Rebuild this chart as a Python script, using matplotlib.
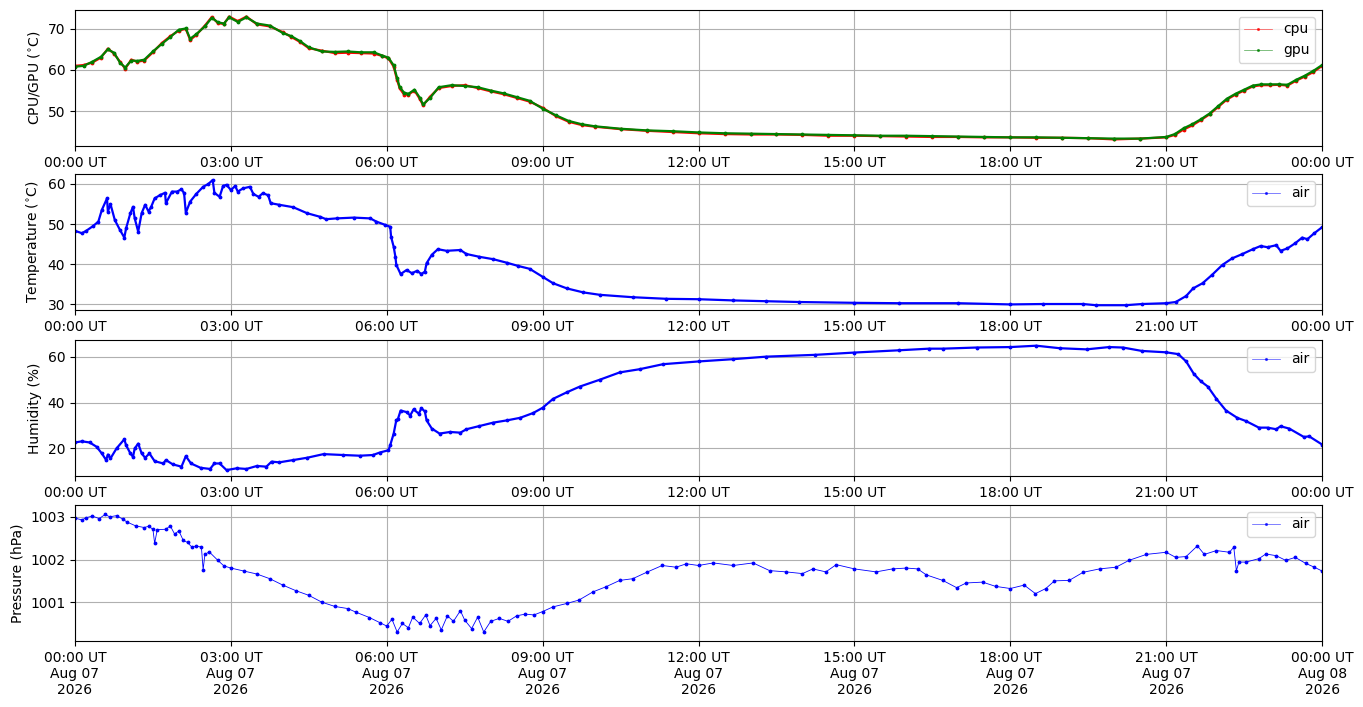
import matplotlib
matplotlib.use('Agg')
import matplotlib.pyplot as plt
import matplotlib.dates as mdates
import pandas as pd

# Dados - CPU / GPU
t_chip = ['00:00', '00:10', '00:20', '00:30', '00:38', '00:45', '00:52', '00:58', '01:05', '01:12',
          '01:20', '01:30', '01:40', '01:50', '02:00', '02:08', '02:13', '02:20', '02:30', '02:38',
          '02:45', '02:52', '02:58', '03:08', '03:18', '03:30', '03:45', '04:00', '04:10', '04:20',
          '04:30', '04:45', '05:00', '05:15', '05:30', '05:45', '05:55', '06:02', '06:08', '06:12',
          '06:15', '06:20', '06:25', '06:32', '06:38', '06:42', '06:50', '07:00', '07:15', '07:30',
          '07:45', '08:00', '08:15', '08:30', '08:45', '09:00', '09:15', '09:30', '09:45', '10:00',
          '10:30', '11:00', '11:30', '12:00', '12:30', '13:00', '13:30', '14:00', '14:30', '15:00',
          '15:30', '16:00', '16:30', '17:00', '17:30', '18:00', '18:30', '19:00', '19:30', '20:00',
          '20:30', '21:00', '21:10', '21:20', '21:30', '21:40', '21:50', '22:00', '22:10', '22:20',
          '22:30', '22:40', '22:50', '23:00', '23:10', '23:20', '23:30', '23:40', '23:50', '24:00']
cpu = [61.0, 61.2, 61.8, 63.0, 65.2, 64.0, 62.0, 60.3, 62.5, 62.0,
       62.3, 64.3, 66.5, 68.2, 69.6, 70.0, 67.3, 68.5, 70.8, 72.9,
       71.4, 71.2, 73.0, 71.9, 73.0, 71.1, 70.6, 69.2, 68.0, 66.8,
       65.3, 64.7, 64.1, 64.2, 64.1, 64.0, 63.4, 62.8, 60.8, 57.5,
       55.5, 54.0, 54.0, 55.0, 53.0, 51.4, 53.5, 55.6, 56.1, 56.3,
       55.6, 54.8, 54.1, 53.2, 52.3, 50.8, 48.8, 47.4, 46.6, 46.2,
       45.6, 45.2, 44.9, 44.6, 44.4, 44.3, 44.3, 44.2, 44.0, 44.0,
       43.9, 43.8, 43.7, 43.7, 43.6, 43.6, 43.5, 43.5, 43.4, 43.1,
       43.3, 43.6, 44.2, 45.5, 46.5, 47.8, 49.2, 51.0, 52.8, 54.0,
       55.0, 56.0, 56.3, 56.3, 56.4, 56.2, 57.4, 58.4, 59.5, 61.0]
gpu = [60.8, 61.0, 62.0, 63.2, 65.0, 64.2, 61.8, 60.6, 62.3, 62.2,
       62.5, 64.5, 66.3, 68.0, 69.8, 70.1, 67.6, 68.7, 70.6, 72.7,
       71.6, 71.3, 72.8, 71.7, 72.8, 71.3, 70.8, 69.0, 68.2, 67.0,
       65.5, 64.5, 64.4, 64.5, 64.3, 64.3, 63.5, 63.0, 61.1, 58.0,
       55.8, 54.5, 54.2, 55.2, 53.3, 51.6, 53.2, 55.8, 56.3, 56.1,
       55.8, 55.0, 54.3, 53.4, 52.5, 50.6, 49.0, 47.6, 46.8, 46.3,
       45.7, 45.3, 45.1, 44.8, 44.6, 44.5, 44.4, 44.3, 44.2, 44.1,
       44.0, 44.0, 43.9, 43.8, 43.7, 43.6, 43.6, 43.5, 43.4, 43.3,
       43.3, 43.7, 44.4, 45.8, 46.8, 48.0, 49.4, 51.2, 53.0, 54.2,
       55.2, 56.2, 56.5, 56.5, 56.5, 56.4, 57.6, 58.6, 59.8, 61.2]

# Dados - temperatura do ar
t_temp = ['00:00', '00:08', '00:13', '00:21', '00:27', '00:31', '00:37', '00:38', '00:41', '00:46',
          '00:52', '00:57', '00:59', '01:04', '01:07', '01:09', '01:13', '01:17', '01:21', '01:25',
          '01:28', '01:32', '01:38', '01:44', '01:45', '01:52', '01:58', '02:03', '02:06', '02:08',
          '02:13', '02:20', '02:28', '02:34', '02:39', '02:41', '02:47', '02:51', '02:55', '03:00',
          '03:05', '03:08', '03:14', '03:22', '03:26', '03:32', '03:37', '03:43', '03:46', '03:56',
          '04:12', '04:28', '04:43', '04:50', '05:02', '05:22', '05:41', '05:48', '05:58', '06:04',
          '06:05', '06:08', '06:10', '06:11', '06:16', '06:23', '06:29', '06:35', '06:40', '06:44',
          '06:46', '06:52', '06:59', '07:09', '07:25', '07:32', '07:47', '08:03', '08:19', '08:32',
          '08:45', '09:00', '09:12', '09:28', '09:47', '10:06', '10:44', '11:23', '12:00', '12:40',
          '13:18', '13:56', '15:00', '15:52', '17:00', '18:00', '18:38', '19:24', '19:39', '20:13',
          '20:32', '21:00', '21:11', '21:23', '21:31', '21:42', '21:53', '22:05', '22:16', '22:28',
          '22:40', '22:49', '22:57', '23:07', '23:12', '23:20', '23:29', '23:37', '23:43', '23:51',
          '24:00']
temp = [48.3, 47.7, 48.3, 49.5, 50.6, 53.5, 56.4, 53.1, 55.0, 51.0,
        48.5, 46.6, 48.9, 52.7, 54.3, 51.4, 48.1, 52.7, 54.8, 53.1,
        54.3, 56.4, 57.2, 57.8, 55.2, 58.1, 58.1, 58.7, 57.7, 52.8,
        55.6, 57.5, 59.3, 60.0, 61.0, 57.8, 56.8, 59.5, 59.8, 58.5,
        59.5, 58.1, 58.9, 59.3, 57.5, 56.8, 57.7, 57.2, 55.2, 54.8,
        54.2, 52.7, 51.8, 51.2, 51.4, 51.6, 51.4, 50.6, 49.8, 49.3,
        46.8, 44.3, 41.8, 39.8, 37.5, 38.5, 37.7, 38.3, 37.5, 38.1,
        40.2, 42.3, 43.7, 43.3, 43.5, 42.5, 41.8, 41.2, 40.3, 39.5,
        38.8, 36.8, 35.2, 33.9, 32.9, 32.3, 31.7, 31.3, 31.2, 30.9,
        30.7, 30.5, 30.3, 30.2, 30.2, 29.9, 30.0, 30.0, 29.7, 29.7,
        30.0, 30.2, 30.5, 32.0, 33.9, 35.2, 37.3, 39.8, 41.4, 42.5,
        43.7, 44.5, 44.2, 44.7, 43.3, 43.9, 45.2, 46.6, 46.2, 47.7,
        49.2]

# Dados - umidade
t_hum = ['00:00', '00:08', '00:17', '00:25', '00:31', '00:36', '00:38', '00:41', '00:48', '00:57',
         '00:59', '01:04', '01:07', '01:09', '01:13', '01:17', '01:21', '01:26', '01:32', '01:42',
         '01:45', '01:53', '02:03', '02:08', '02:14', '02:25', '02:36', '02:41', '02:47', '02:55',
         '03:07', '03:18', '03:30', '03:41', '03:47', '03:56', '04:12', '04:28', '04:47', '05:10',
         '05:29', '05:44', '05:52', '06:02', '06:04', '06:08', '06:11', '06:13', '06:16', '06:23',
         '06:27', '06:31', '06:37', '06:40', '06:44', '06:46', '06:52', '07:01', '07:13', '07:25',
         '07:32', '07:47', '08:03', '08:19', '08:34', '08:49', '09:00', '09:12', '09:28', '09:43',
         '10:06', '10:29', '10:52', '11:19', '12:00', '12:40', '13:18', '14:15', '15:00', '15:52',
         '16:26', '16:42', '17:21', '18:00', '18:30', '18:57', '19:28', '19:54', '20:10', '20:32',
         '21:00', '21:14', '21:23', '21:32', '21:40', '21:48', '21:58', '22:09', '22:22', '22:32',
         '22:47', '22:57', '23:07', '23:12', '23:22', '23:39', '23:45', '24:00']
hum = [22.5, 23.0, 22.5, 20.6, 17.7, 14.8, 17.2, 15.5, 19.9, 23.9,
       21.3, 17.7, 16.2, 19.9, 22.0, 17.7, 15.8, 17.7, 14.3, 13.3,
       14.8, 12.9, 11.9, 16.5, 13.3, 11.4, 10.9, 13.3, 13.3, 10.4,
       11.2, 10.9, 12.2, 11.9, 14.1, 13.8, 14.8, 15.8, 17.4, 17.0,
       16.7, 17.0, 18.1, 19.1, 21.3, 26.4, 32.2, 32.9, 36.5, 35.8,
       34.3, 37.0, 35.1, 37.5, 36.1, 32.2, 28.6, 26.4, 27.1, 26.8,
       28.3, 29.7, 31.2, 32.2, 33.3, 35.4, 37.7, 41.6, 44.5, 47.0,
       50.0, 53.2, 54.6, 56.8, 58.0, 59.0, 60.1, 60.9, 61.9, 62.9,
       63.6, 63.6, 64.1, 64.3, 64.9, 63.8, 63.3, 64.3, 64.1, 62.6,
       62.0, 61.2, 58.0, 52.5, 49.3, 47.0, 41.6, 36.5, 33.3, 31.9,
       29.0, 29.0, 28.3, 29.6, 28.6, 24.9, 25.2, 21.6]

# Dados - pressao
t_pres = ['00:00', '00:08', '00:13', '00:20', '00:28', '00:35', '00:40', '00:48', '00:55', '01:00',
          '01:10', '01:20', '01:25', '01:30', '01:32', '01:35', '01:45', '01:50', '01:55', '02:00',
          '02:05', '02:10', '02:15', '02:20', '02:26', '02:28', '02:30', '02:35', '02:45', '02:52',
          '03:00', '03:15', '03:30', '03:45', '04:00', '04:15', '04:30', '04:45', '05:00', '05:15',
          '05:25', '05:40', '05:52', '06:00', '06:06', '06:12', '06:18', '06:25', '06:30', '06:38',
          '06:45', '06:50', '06:57', '07:03', '07:10', '07:17', '07:25', '07:30', '07:38', '07:45',
          '07:52', '08:00', '08:10', '08:20', '08:30', '08:40', '08:50', '09:00', '09:12', '09:28',
          '09:42', '09:58', '10:13', '10:29', '10:44', '11:00', '11:18', '11:34', '11:46', '12:00',
          '12:17', '12:40', '13:03', '13:22', '13:41', '14:00', '14:12', '14:27', '14:39', '15:00',
          '15:25', '15:44', '16:00', '16:13', '16:23', '16:42', '16:58', '17:09', '17:28', '17:43',
          '18:00', '18:16', '18:29', '18:41', '18:51', '19:08', '19:24', '19:43', '20:02', '20:17',
          '20:37', '21:00', '21:11', '21:23', '21:36', '21:44', '21:58', '22:13', '22:18', '22:21',
          '22:24', '22:32', '22:47', '22:55', '23:07', '23:18', '23:29', '23:41', '23:51', '24:00']
pres = [1002.97, 1002.93, 1002.98, 1003.02, 1002.96, 1003.06, 1003.00, 1003.03, 1002.95, 1002.88,
        1002.79, 1002.75, 1002.78, 1002.71, 1002.38, 1002.70, 1002.71, 1002.79, 1002.60, 1002.67,
        1002.45, 1002.40, 1002.29, 1002.32, 1002.29, 1001.76, 1002.12, 1002.18, 1001.98, 1001.85,
        1001.80, 1001.73, 1001.66, 1001.55, 1001.40, 1001.27, 1001.16, 1001.00, 1000.90, 1000.85,
        1000.76, 1000.64, 1000.52, 1000.44, 1000.60, 1000.30, 1000.50, 1000.40, 1000.65, 1000.50,
        1000.70, 1000.45, 1000.62, 1000.35, 1000.68, 1000.55, 1000.80, 1000.58, 1000.38, 1000.65,
        1000.30, 1000.55, 1000.62, 1000.55, 1000.68, 1000.72, 1000.70, 1000.78, 1000.89, 1000.97,
        1001.05, 1001.24, 1001.36, 1001.51, 1001.55, 1001.70, 1001.86, 1001.82, 1001.90, 1001.86,
        1001.92, 1001.86, 1001.92, 1001.74, 1001.71, 1001.67, 1001.78, 1001.71, 1001.88, 1001.78,
        1001.71, 1001.78, 1001.80, 1001.78, 1001.64, 1001.51, 1001.34, 1001.45, 1001.47, 1001.37,
        1001.32, 1001.40, 1001.20, 1001.32, 1001.50, 1001.51, 1001.70, 1001.78, 1001.82, 1001.98,
        1002.12, 1002.17, 1002.05, 1002.07, 1002.32, 1002.12, 1002.21, 1002.17, 1002.29, 1001.74,
        1001.94, 1001.94, 1002.02, 1002.13, 1002.09, 1001.98, 1002.05, 1001.91, 1001.82, 1001.73]

dia = pd.Timestamp('2026-08-07')


def horas(lista):
    out = []
    for s in lista:
        h, m = s.split(':')
        out.append(dia + pd.Timedelta(hours=int(h), minutes=int(m)))
    return out


estilo = dict(marker='.', markersize=3.5, linewidth=1.6)

fig = plt.figure(figsize=(13.63, 7.07), dpi=100)
esq, larg, alt = 0.055, 0.915, 0.1924
ax1 = fig.add_axes([esq, 0.7935, larg, alt])
ax2 = fig.add_axes([esq, 0.5615, larg, alt])
ax3 = fig.add_axes([esq, 0.3267, larg, alt])
ax4 = fig.add_axes([esq, 0.0934, larg, alt])

ax1.plot(horas(t_chip), cpu, color='red', label='cpu', **estilo)
ax1.plot(horas(t_chip), gpu, color='green', label='gpu', **estilo)
ax1.set_ylabel('CPU/GPU ($^{\\circ}$C)')
ax1.set_ylim(41.5, 74.6)

ax2.plot(horas(t_temp), temp, color='blue', label='air', **estilo)
ax2.set_ylabel('Temperature ($^{\\circ}$C)')
ax2.set_ylim(28.5, 62.5)

ax3.plot(horas(t_hum), hum, color='blue', label='air', **estilo)
ax3.set_ylabel('Humidity (%)')
ax3.set_ylim(7.8, 67.4)
ax3.set_yticks([20, 40, 60])

ax4.plot(horas(t_pres), pres, color='blue', label='air', marker='.', markersize=3.5, linewidth=0.6)
ax4.set_ylabel('Pressure (hPa)')
ax4.set_ylim(1000.09, 1003.28)
ax4.set_yticks([1001, 1002, 1003])
ax4.ticklabel_format(axis='y', useOffset=False)

for ax in (ax1, ax2, ax3, ax4):
    ax.set_xlim(dia, dia + pd.Timedelta(hours=24))
    ax.xaxis.set_major_locator(mdates.HourLocator(byhour=range(0, 24, 3)))
    ax.xaxis.set_major_formatter(mdates.DateFormatter('%H:%M UT'))
    ax.grid(True)
    leg = ax.legend(loc='upper right')
    # legenda com linha fina, como no original
    for ln in leg.get_lines():
        ln.set_linewidth(0.5)
        ln.set_alpha(0.7)
        ln.set_markersize(2.5)

ax4.xaxis.set_major_formatter(mdates.DateFormatter('%H:%M UT\n%b %d\n%Y'))

plt.savefig('out.png', dpi=100)
